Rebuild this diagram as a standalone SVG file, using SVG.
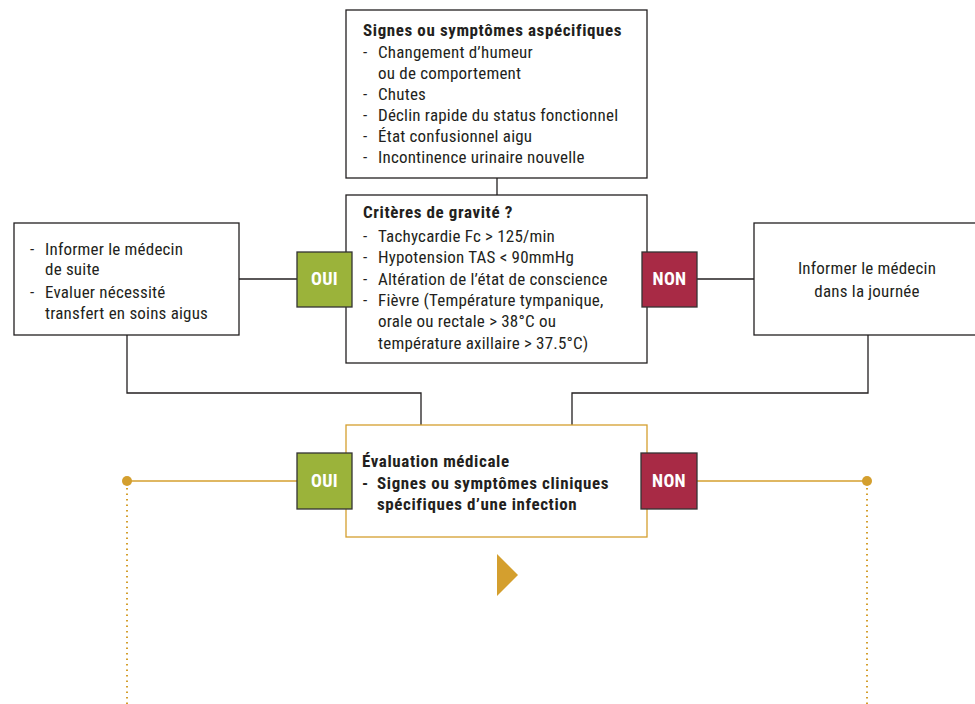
<svg xmlns="http://www.w3.org/2000/svg" width="975" height="704" viewBox="0 0 975 704">
<style>
text{font-family:"Liberation Sans Narrow","Roboto Condensed",Roboto,sans-serif;font-size:17px;letter-spacing:0.2px;fill:#231f20}
.b{font-weight:bold;letter-spacing:0.6px}
.box{fill:#fff;stroke:#231f20;stroke-width:1.3}
.gbox{fill:#fff;stroke:#d49f2e;stroke-width:1.3}
.yes{fill:#9bb33a;stroke:#333;stroke-width:1.3}
.no{fill:#a82a45;stroke:#333;stroke-width:1.3}
.lbl{fill:#fff;font-weight:bold;font-size:18px;letter-spacing:0.3px;text-anchor:middle}
.ln{fill:none;stroke:#231f20;stroke-width:1.3}
.gl{fill:none;stroke:#d49f2e;stroke-width:1.5}
.dot{fill:none;stroke:#d49f2e;stroke-width:2;stroke-dasharray:1.5 4}
</style>
<g id="connectors">
<path class="ln" d="M497,178V195"/>
<path class="ln" d="M239,279H297"/>
<path class="ln" d="M697,279H754"/>
<path class="ln" d="M127,335V393H421V425"/>
<path class="ln" d="M868,335V393H572V425"/>
<path class="gl" d="M127,481H297"/>
<path class="gl" d="M697,481H867"/>
<circle cx="127" cy="481" r="5" fill="#d49f2e"/>
<circle cx="867" cy="481" r="5" fill="#d49f2e"/>
<path class="dot" d="M127,488V704"/>
<path class="dot" d="M867,488V704"/>
</g>
<g id="n-symptomes">
<rect class="box" x="346" y="10" width="301" height="168"/>
<text class="b" x="363" y="36">Signes ou symptômes aspécifiques</text>
<text x="363" y="58">-</text><text x="378" y="58">Changement d’humeur</text>
<text x="378" y="79">ou de comportement</text>
<text x="363" y="100">-</text><text x="378" y="100">Chutes</text>
<text x="363" y="121">-</text><text x="378" y="121">Déclin rapide du status fonctionnel</text>
<text x="363" y="142">-</text><text x="378" y="142">État confusionnel aigu</text>
<text x="363" y="163">-</text><text x="378" y="163">Incontinence urinaire nouvelle</text>
</g>
<g id="n-criteres">
<rect class="box" x="346" y="195" width="301" height="168"/>
<text class="b" x="363" y="218">Critères de gravité ?</text>
<text x="363" y="242">-</text><text x="378" y="242">Tachycardie Fc &gt; 125/min</text>
<text x="363" y="263">-</text><text x="378" y="263">Hypotension TAS &lt; 90mmHg</text>
<text x="363" y="285">-</text><text x="378" y="285">Altération de l’état de conscience</text>
<text x="363" y="306">-</text><text x="378" y="306">Fièvre (Température tympanique,</text>
<text x="378" y="327">orale ou rectale &gt; 38°C ou</text>
<text x="378" y="349">température axillaire &gt; 37.5°C)</text>
</g>
<g id="n-oui1">
<rect class="yes" x="297" y="252" width="55" height="55"/>
<text class="lbl" x="324.5" y="285">OUI</text>
</g>
<g id="n-non1">
<rect class="no" x="642" y="252" width="55" height="55"/>
<text class="lbl" x="669.5" y="285">NON</text>
</g>
<g id="n-informer-suite">
<rect class="box" x="14" y="223" width="225" height="112"/>
<text x="30" y="255">-</text><text x="45" y="255">Informer le médecin</text>
<text x="45" y="275">de suite</text>
<text x="30" y="298">-</text><text x="45" y="298">Evaluer nécessité</text>
<text x="45" y="319">transfert en soins aigus</text>
</g>
<g id="n-informer-journee">
<rect class="box" x="754" y="223" width="230" height="112"/>
<text x="867" y="274" text-anchor="middle">Informer le médecin</text>
<text x="867" y="297" text-anchor="middle">dans la journée</text>
</g>
<g id="n-evaluation">
<rect class="gbox" x="346" y="425" width="301" height="112"/>
<text class="b" x="362" y="467">Évaluation médicale</text>
<text class="b" x="362" y="489">-</text><text class="b" x="377" y="489">Signes ou symptômes cliniques</text>
<text class="b" x="377" y="510">spécifiques d’une infection</text>
</g>
<g id="n-oui2">
<rect class="yes" x="297" y="453" width="55" height="56"/>
<text class="lbl" x="324.5" y="487">OUI</text>
</g>
<g id="n-non2">
<rect class="no" x="641" y="453" width="56" height="56"/>
<text class="lbl" x="669" y="487">NON</text>
</g>
<g id="n-arrow">
<polygon points="497,554 518,575 497,596" fill="#d49f2e"/>
</g>
</svg>
